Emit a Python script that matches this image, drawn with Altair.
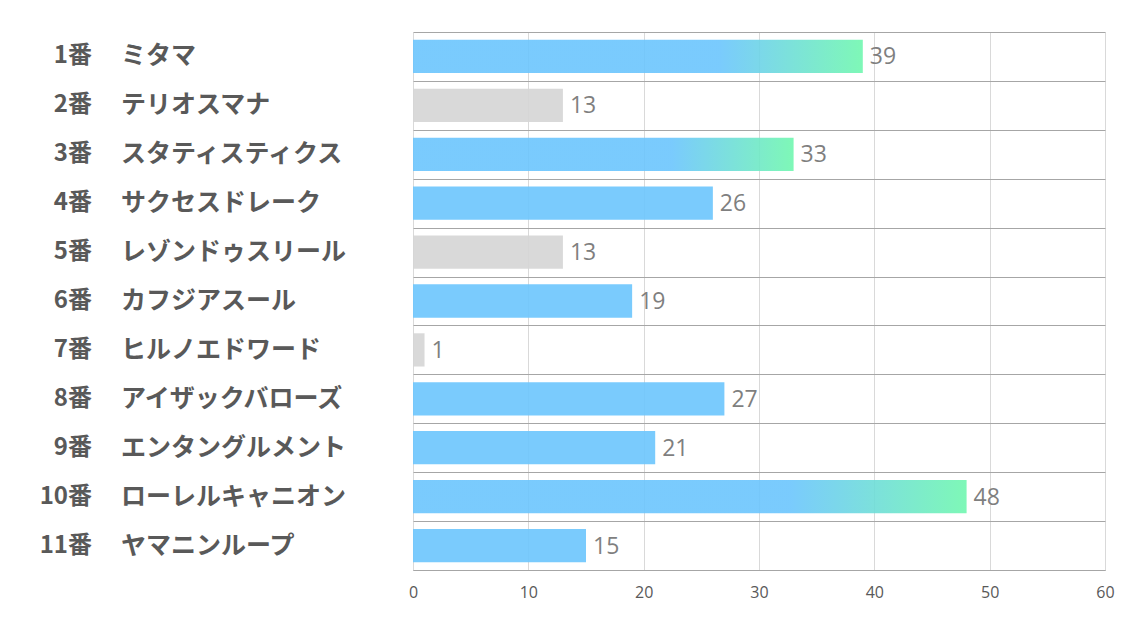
import altair as alt
import pandas as pd

numbers = ["1番", "2番", "3番", "4番", "5番", "6番", "7番", "8番", "9番", "10番", "11番"]
names = ["ミタマ", "テリオスマナ", "スタティスティクス", "サクセスドレーク", "レゾンドゥスリール",
         "カフジアスール", "ヒルノエドワード", "アイザックバローズ", "エンタングルメント",
         "ローレルキャニオン", "ヤマニンループ"]
values = [39, 13, 33, 26, 13, 19, 1, 27, 21, 48, 15]
groups = ["top", "low", "top", "mid", "low", "mid", "low", "mid", "mid", "top", "mid"]

df = pd.DataFrame({"num": numbers, "name": names, "value": values, "group": groups})

FONT = "Noto Sans CJK JP"
BLUE = "#6bc5fd"
GRAY = "#d5d5d5"
GREEN = "#70f7af"

y_enc = alt.Y(
    "num:N", sort=numbers, title=None,
    scale=alt.Scale(paddingInner=0, paddingOuter=0),
    axis=alt.Axis(labels=False, ticks=False, domain=False, grid=True,
                  gridColor="#a6a6a6", gridWidth=1, tickBand="extent"),
)
x_enc = alt.X(
    "value:Q", title=None,
    scale=alt.Scale(domain=[0, 60]),
    axis=alt.Axis(values=[0, 10, 20, 30, 40, 50, 60], grid=True, gridColor="#d9d9d9",
                  ticks=False, domain=True, domainColor="#a6a6a6", labelFlush=False,
                  labelFont="Open Sans", labelFontSize=16, labelColor="#595959", labelPadding=14),
)

base = alt.Chart(df).encode(y=y_enc)

grad = alt.Gradient(
    gradient="linear", x1=0, x2=1, y1=0, y2=0,
    stops=[alt.GradientStop(color=BLUE, offset=0),
           alt.GradientStop(color=BLUE, offset=0.68),
           alt.GradientStop(color=GREEN, offset=1)],
)

bars_top = base.mark_bar(height={"band": 0.68}, fill=grad, opacity=0.9).encode(x=x_enc).transform_filter(
    alt.datum.group == "top")
bars_mid = base.mark_bar(height={"band": 0.68}, fill=BLUE, opacity=0.9).encode(x=x_enc).transform_filter(
    alt.datum.group == "mid")
bars_low = base.mark_bar(height={"band": 0.68}, fill=GRAY, opacity=0.9).encode(x=x_enc).transform_filter(
    alt.datum.group == "low")

vals = base.mark_text(align="left", baseline="middle", dx=7, dy=1, font="Open Sans",
                      fontSize=23, color="#7f7f7f").encode(x=x_enc, text="value:Q")

num_text = base.mark_text(align="right", baseline="middle", font=FONT, fontSize=24,
                          fontWeight="bold", color="#595959").encode(
    x=alt.value(-321), text="num:N")
name_text = base.mark_text(align="left", baseline="middle", font=FONT, fontSize=25,
                           fontWeight="bold", color="#595959").encode(
    x=alt.value(-292), text="name:N")

chart = alt.layer(bars_top, bars_mid, bars_low, vals, num_text, name_text).properties(
    width=692, height=538,
    autosize=alt.AutoSizeParams(type="none"),
    padding={"left": 405, "top": 24, "right": 21, "bottom": 53},
).configure_view(stroke=None)

chart.save("out.html", embed_options={"renderer": "svg", "actions": False})
